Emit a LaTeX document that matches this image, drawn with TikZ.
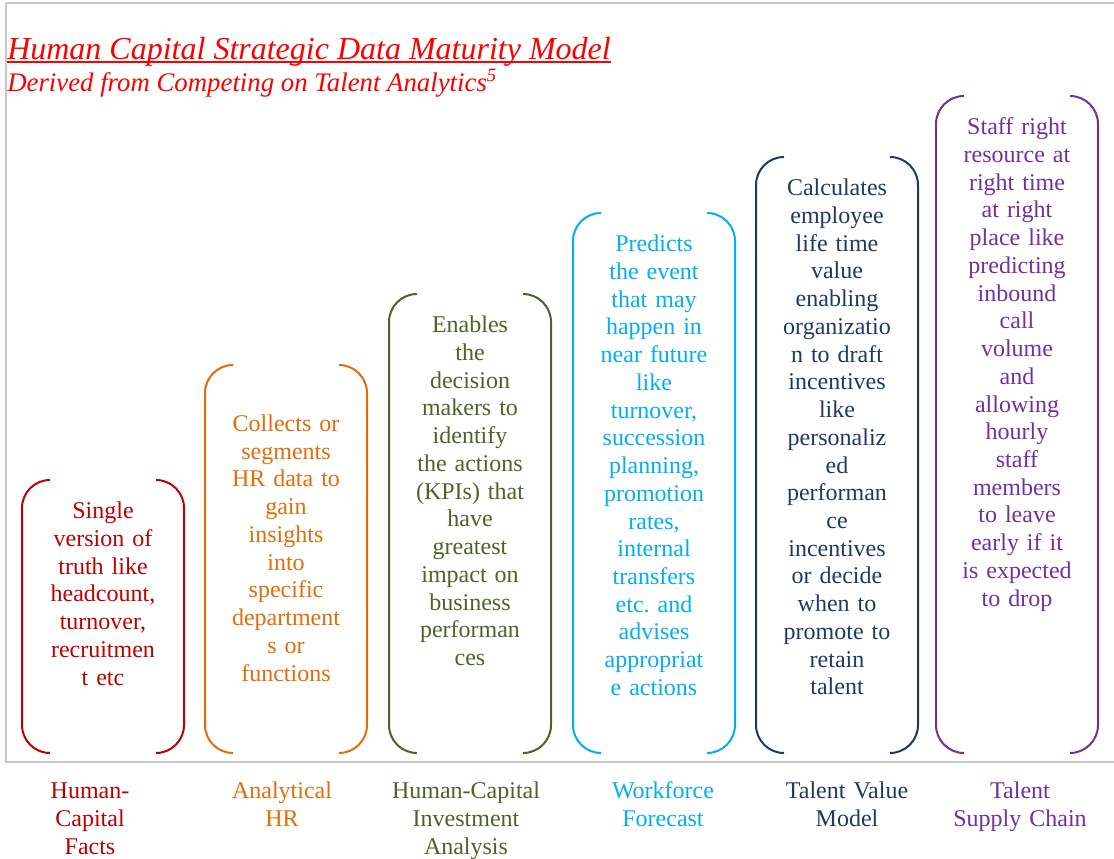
\documentclass[tikz,border=0pt]{standalone}
\usepackage{fontspec}
\setmainfont{Liberation Serif}
\usetikzlibrary{positioning}
\frenchspacing
\definecolor{factsred}{HTML}{C00000}
\definecolor{hrorange}{HTML}{E46C0A}
\definecolor{investolive}{HTML}{4F6228}
\definecolor{forecastcyan}{HTML}{00B0F0}
\definecolor{valuenavy}{HTML}{1F3864}
\definecolor{supplypurple}{HTML}{7030A0}
\definecolor{titlered}{HTML}{FF0000}
% #1 name, #2 colour, #3 left edge, #4 top edge, #5 text, #6 label x, #7 label
\newcommand{\Stage}[7]{%
  \draw[bracket, #2] (#3+28,#4) -- (#3,#4) -- (#3,753) -- (#3+28,753);
  \draw[bracket, #2] (#3+134,#4) -- (#3+162,#4) -- (#3+162,753) -- (#3+134,753);
  \node[stagetext, text=#2] (#1) at (#3+81,#4+19) {\strut #5};
  \node[stagetext, text=#2] (#1-name) at (#6,779) {\strut #7};
}
\begin{document}
\begin{tikzpicture}[x=0.75pt, y=-0.75pt]
  \tikzset{bracket/.style   = {line width=1.5pt,
      rounded corners = 21pt},
    stagetext/.style  = {align=center,
      text width  = 130pt,
      inner sep   = 0pt,
      anchor      = north,
      font        = \fontsize{18}{20.8}\selectfont},
    frame/.style      = {draw=black!22, line width=1pt}}
  \useasboundingbox (0,0) rectangle (1114,859);
  \draw[frame] (1114,3) -- (6,3) -- (6,762) -- (1114,762);
  \node[anchor=base west, inner sep=0pt, text=titlered,
    font=\fontsize{24}{28}\selectfont\itshape] (title) at (7,59.5)
    {Human Capital Strategic Data Maturity Model};
  \draw[titlered, line width=1.4pt] ([yshift=-1.8pt]title.base west) -- ([yshift=-1.8pt]title.base east);
  \node[anchor=base west, inner sep=0pt, text=titlered,
    font=\fontsize{20.1}{23}\selectfont\itshape] (subtitle) at (7,91.7)
    {Derived from Competing on Talent Analytics\textsuperscript{5}};
  \Stage{facts}{factsred}{22}{480}
    {Single\\version of\\truth like\\headcount,\\turnover,\\recruitmen\\t etc}
    {90}{Human-\\Capital\\Facts}
  \Stage{analytical}{hrorange}{205}{365}
    {\\Collects or\\segments\\HR data to\\gain\\insights\\into\\specific\\department\\s or\\functions}
    {282}{Analytical\\HR}
  \Stage{investment}{investolive}{389}{294}
    {Enables\\the\\decision\\makers to\\identify\\the actions\\(KPIs) that\\have\\greatest\\impact on\\business\\performan\\ces}
    {466}{Human-Capital\\Investment\\Analysis}
  \Stage{forecast}{forecastcyan}{573}{213}
    {Predicts\\the event\\that may\\happen in\\near future\\like\\turnover,\\succession\\planning,\\promotion\\rates,\\internal\\transfers\\etc. and\\advises\\appropriat\\e actions}
    {663}{Workforce\\Forecast}
  \Stage{value}{valuenavy}{756}{157}
    {Calculates\\employee\\life time\\value\\enabling\\organizatio\\n to draft\\incentives\\like\\personaliz\\ed\\performan\\ce\\incentives\\or decide\\when to\\promote to\\retain\\talent}
    {847}{Talent Value\\Model}
  \Stage{supply}{supplypurple}{936}{96}
    {Staff right\\resource at\\right time\\at right\\place like\\predicting\\inbound\\call\\volume\\and\\allowing\\hourly\\staff\\members\\to leave\\early if it\\is expected\\to drop}
    {1020}{Talent\\Supply Chain}
\end{tikzpicture}
\end{document}
